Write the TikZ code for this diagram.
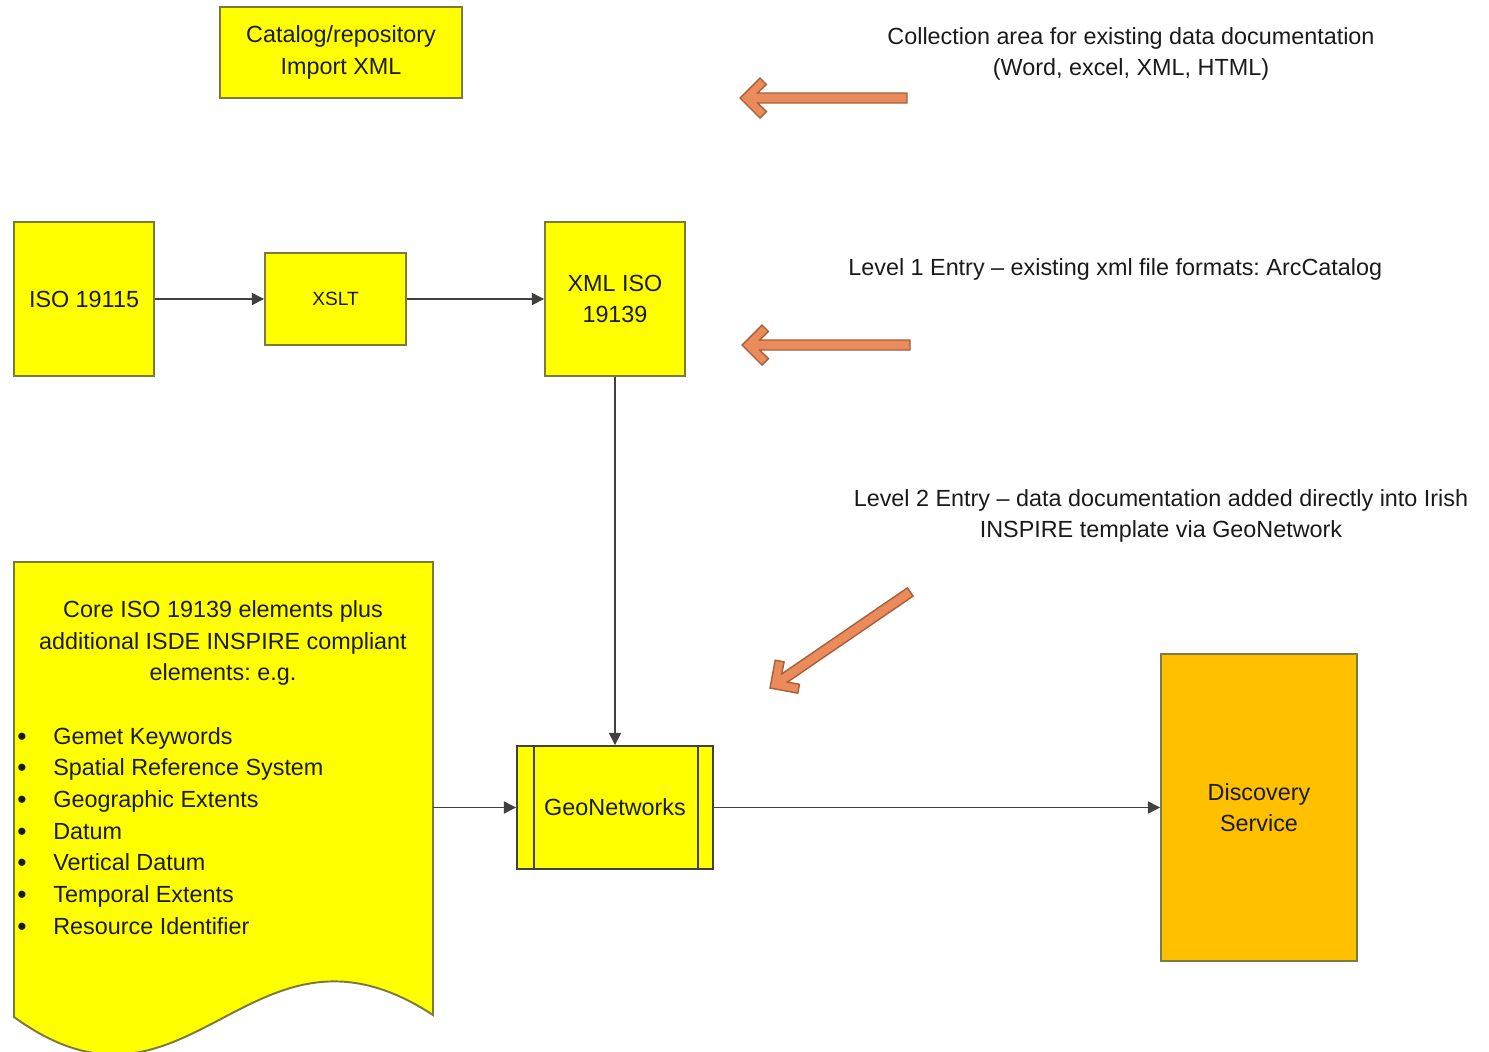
\documentclass[tikz,border=0pt]{standalone}
\usepackage{fontspec}
\setmainfont{Liberation Sans}
\usetikzlibrary{arrows.meta,calc}
\definecolor{boxyellow}{HTML}{FFFF00}
\definecolor{boxorange}{HTML}{FFC000}
\definecolor{boxline}{HTML}{7A7A3A}
\definecolor{conn}{HTML}{404040}
\definecolor{txt}{HTML}{1A1A1A}
\definecolor{arrfill}{HTML}{EB8A5A}
\definecolor{arrline}{HTML}{A5603A}
\frenchspacing
\tikzset{
  main/.style={font=\fontsize{13.3}{17.9}\selectfont, text=txt},
  ybox/.style={main, draw=boxline, fill=boxyellow, line width=1.1pt, align=center, inner sep=0pt},
  obox/.style={ybox, fill=boxorange, draw=boxline!80!gray},
  connector/.style={draw=conn, line width=0.8pt, -{Triangle[length=7pt,width=7pt]}},
  note/.style={main, align=center, inner sep=0pt},
  item/.style={main, anchor=base west, inner sep=0pt},
  bullet/.style={main, anchor=base, inner sep=0pt, font=\fontsize{15}{17.9}\selectfont},
  blockarrow/.pic={
    \draw[fill=arrfill, draw=arrline, line width=0.8pt, line join=miter]
      (0,0) -- (20,20) -- (26.4,13.6) -- (17.7,5) -- (#1,5) -- (#1,-5)
      -- (17.7,-5) -- (26.4,-13.6) -- (20,-20) -- cycle;
  }
}
\begin{document}
\begin{tikzpicture}[x=0.02cm, y=-0.02cm]
\useasboundingbox (0,0) rectangle (1489,1052);

% top box
\node[ybox, minimum width=4.84cm, minimum height=1.82cm] (cat) at (341,52.5) {Catalog/repository\\Import XML};

% row of boxes
\node[ybox, minimum width=2.8cm, minimum height=3.08cm] (iso) at (84,299) {ISO 19115};
\node[ybox, minimum width=2.82cm, minimum height=1.84cm, font=\fontsize{10.9}{13}\selectfont] (xslt) at (335.5,299) {XSLT};
\node[ybox, minimum width=2.8cm, minimum height=3.08cm] (xml) at (615,299) {XML ISO\\19139};

% GeoNetworks
\node[ybox, draw=black!75, minimum width=3.92cm, minimum height=2.46cm] (geo) at (615,807.5) {GeoNetworks};
\draw[black!75, line width=1.1pt] ([xshift=0.36cm]geo.north west) -- ([xshift=0.36cm]geo.south west);
\draw[black!75, line width=1.1pt] ([xshift=-0.32cm]geo.north east) -- ([xshift=-0.32cm]geo.south east);

% Discovery
\node[obox, minimum width=3.92cm, minimum height=6.14cm] (disc) at (1259,807.5) {Discovery\\Service};

% document shape
\draw[fill=boxyellow, draw=boxline, line width=1.1pt]
  (14,562) -- (433,562) -- (433,1015)
  .. controls (250,895) and (190,1145) .. (14,1017) -- cycle;
\coordinate (docE) at (433,807.5);
\node[note] (dochead) at (223,643) {Core ISO 19139 elements plus\\additional ISDE INSPIRE compliant\\elements: e.g.};
\foreach \t [count=\i from 0] in {Gemet Keywords,Spatial Reference System,Geographic Extents,Datum,Vertical Datum,Temporal Extents,Resource Identifier}{
  \node[item] (it\i) at (53,744+31.7*\i) {\t};
  \node[bullet] (bul\i) at (22,745+31.7*\i) {•};
}

% connectors
\draw[connector] (iso) -- (xslt);
\draw[connector] (xslt) -- (xml);
\draw[connector] (xml) -- (geo);
\draw[connector] (docE) -- (docE -| geo.west);
\draw[connector] (geo) -- (disc);

% notes
\node[note] (n1) at (1131,54) {Collection area for existing data documentation\\(Word, excel, XML, HTML)};
\node[note, anchor=west] (n2) at (848,269) {Level 1 Entry – existing xml file formats: ArcCatalog};
\node[note] (n3) at (1161,516) {Level 2 Entry – data documentation added directly into Irish\\INSPIRE template via GeoNetwork};

% orange arrows
\pic at (740,98) {blockarrow=167};
\pic at (742,345) {blockarrow=168};
\pic[rotate=34.4] at (770,688) {blockarrow=170};
\end{tikzpicture}
\end{document}
